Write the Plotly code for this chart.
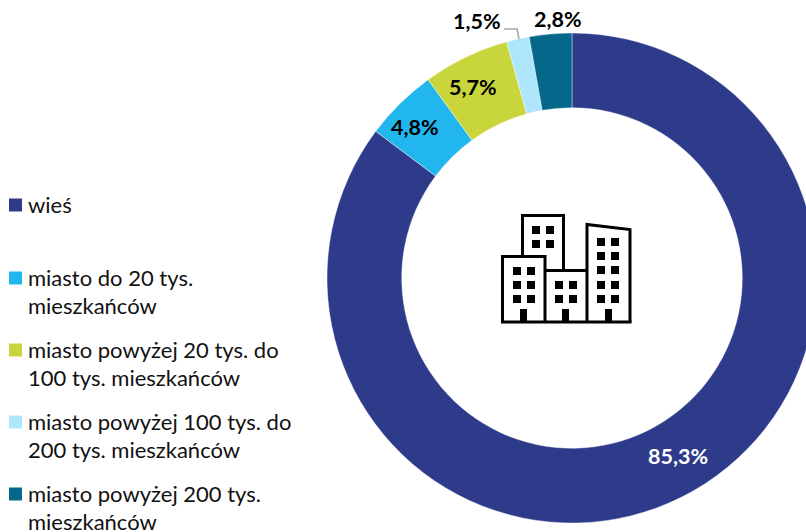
import plotly.graph_objects as go

W, H = 826, 532

categories = ["wieś", "miasto do 20 tys. mieszkańców", "miasto powyżej 20 tys. do 100 tys. mieszkańców",
              "miasto powyżej 100 tys. do 200 tys. mieszkańców", "miasto powyżej 200 tys. mieszkańców"]
values = [85.3, 4.8, 5.7, 1.5, 2.8]
value_labels = ["85,3%", "4,8%", "5,7%", "1,5%", "2,8%"]
colors = ["#2E3A8A", "#22B6EE", "#C8D53B", "#AEE6FB", "#05688A"]
label_colors = ["white", "black", "black", "black", "black"]
label_pos = [(678, 456), (415, 127), (473, 87), (477, 21), (558, 19)]
legend_lines = [["wieś"], ["miasto do 20 tys.", "mieszkańców"], ["miasto powyżej 20 tys. do", "100 tys. mieszkańców"],
                ["miasto powyżej 100 tys. do", "200 tys. mieszkańców"], ["miasto powyżej 200 tys.", "mieszkańców"]]
legend_y = [205, 278, 350, 422, 494]
FONT = "Lato, Carlito, Calibri, sans-serif"

def px(x): return x / W
def py(y): return 1 - y / H

fig = go.Figure(go.Pie(
    labels=categories, values=values, hole=0.695, sort=False, direction="clockwise", rotation=0,
    marker=dict(colors=colors, line=dict(color="white", width=0.4)),
    textinfo="none", hoverinfo="label+percent", showlegend=False,
    domain=dict(x=[px(327), px(817)], y=[py(523), py(33)]),
))

shapes, annotations = [], []
for lab, c, (x, y) in zip(value_labels, label_colors, label_pos):
    annotations.append(dict(x=px(x), y=py(y), xref="paper", yref="paper", text=f"<b>{lab}</b>", showarrow=False,
                            font=dict(family=FONT, size=21.5, color=c), xanchor="center", yanchor="middle"))
for lines, c, y in zip(legend_lines, colors, legend_y):
    shapes.append(dict(type="rect", xref="paper", yref="paper", x0=px(9), x1=px(22), y0=py(y - 6.5), y1=py(y + 6.5),
                       fillcolor=c, line_width=0))
    for i, t in enumerate(lines):
        annotations.append(dict(x=px(28), y=py(y - 0.5 + i * 28), xref="paper", yref="paper", text=t, showarrow=False,
                                font=dict(family=FONT, size=22, color="#111111"), xanchor="left", yanchor="middle",
                                borderpad=0, borderwidth=0))

def path(points, close=True):
    s = "M" + " L".join(f"{px(x):.5f},{py(y):.5f}" for x, y in points)
    return s + (" Z" if close else "")

# leader line
shapes.append(dict(type="path", xref="paper", yref="paper", path=path([(504, 29), (517, 29), (519, 39)], False),
                   line=dict(color="#A6A6A6", width=1.5)))
# buildings icon
outlines = [
    [(522.5, 255), (522.5, 215.5), (563.5, 215.5), (563.5, 270)],
    [(502.5, 322), (502.5, 256.5), (545, 256.5), (545, 322)],
    [(545, 270.5), (587, 270.5)],
    [(587, 322), (587, 224.5), (630, 229.5), (630, 322)],
    [(501, 322), (631.5, 322)],
]
for o in outlines:
    shapes.append(dict(type="path", xref="paper", yref="paper", path=path(o, False),
                       line=dict(color="black", width=3)))
windows = [(x, y) for x in (513, 527) for y in (267, 281, 295)] + \
          [(x, y) for x in (532, 546) for y in (226, 240)] + \
          [(x, y) for x in (555, 569) for y in (281, 295)] + \
          [(x, y) for x in (597, 611) for y in (238, 252, 266, 281, 295)]
for x, y in windows:
    shapes.append(dict(type="rect", xref="paper", yref="paper", x0=px(x), x1=px(x + 8), y0=py(y), y1=py(y + 8),
                       fillcolor="black", line_width=0))
for x in (520, 562, 605):
    shapes.append(dict(type="rect", xref="paper", yref="paper", x0=px(x), x1=px(x + 7), y0=py(309), y1=py(322),
                       fillcolor="black", line_width=0))

fig.update_layout(width=W, height=H, margin=dict(l=0, r=0, t=0, b=0), paper_bgcolor="white",
                  shapes=shapes, annotations=annotations, showlegend=False)
fig.write_html("out.html", config={"displayModeBar": False},
               post_script="document.body.style.margin='0';document.body.style.overflow='hidden';document.documentElement.style.overflow='hidden';")
